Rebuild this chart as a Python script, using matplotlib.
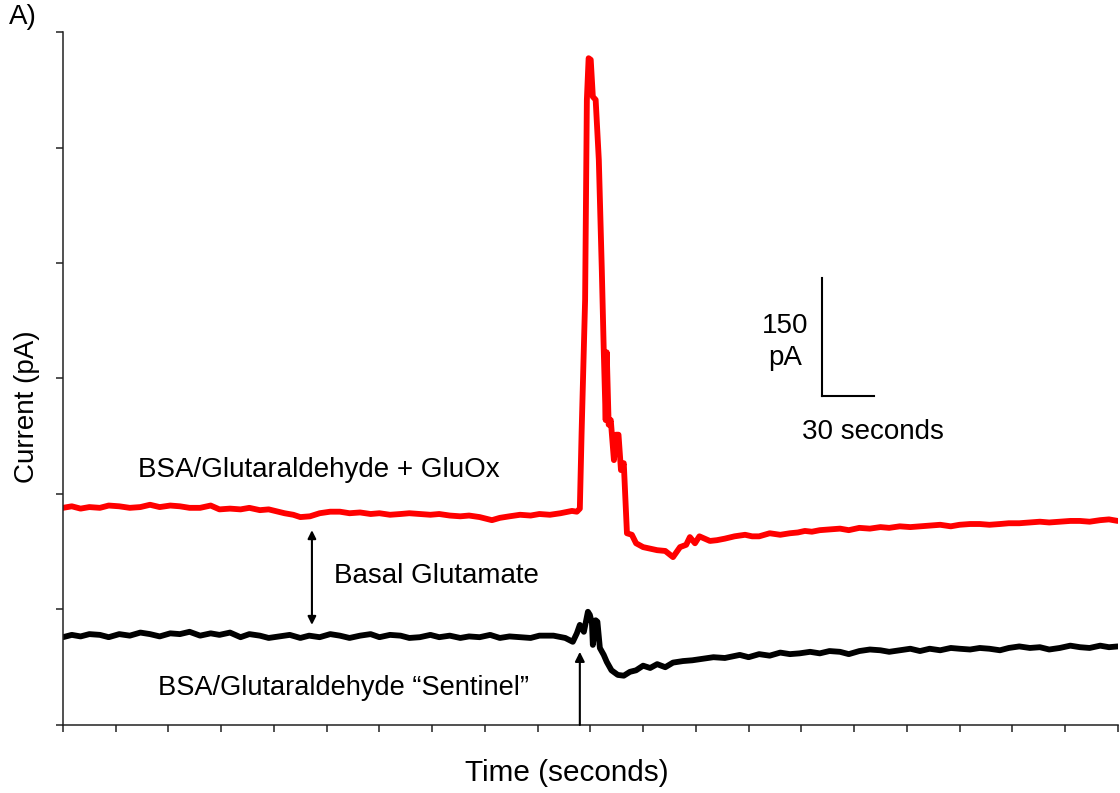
import numpy as np
import matplotlib.pyplot as plt

plt.rcParams['font.family'] = ['Liberation Sans', 'DejaVu Sans']

# Red trace: BSA/Glutaraldehyde + GluOx (time in s, current in pA)
tRed = [0, 5, 10, 15, 21, 26, 32, 38, 44, 49.5, 55, 61, 66.5, 72, 78, 84, 89, 95,
        101, 106, 112, 117, 120.6, 126, 131, 135, 140.5, 146, 152, 157.5, 163, 169,
        175, 180, 186, 192, 197, 203, 209, 214, 220, 226, 231, 237, 244, 248.5, 254,
        260, 266, 271, 277, 283, 289.5, 292.3, 294, 295, 297, 298, 299, 300.2, 301.4,
        303, 304.8, 306.5, 307.6, 308.7, 309.3, 310.4, 311.6, 313.4, 314.5, 316,
        317.4, 319, 320.8, 323.6, 326, 330, 334, 338, 342.6, 347, 351, 354.5, 356.6,
        359.5, 362, 368, 372, 376.5, 382, 388, 392, 396, 402, 408, 413.5, 418, 422,
        426, 430.5, 436, 442, 447, 453, 459, 465, 470, 476, 482, 487.5, 493, 499,
        505, 510, 516, 521.5, 527, 533, 538, 544, 550, 555.7, 561, 567, 573, 578.5,
        584, 590, 595, 600]
iRed = [282, 284, 281, 283, 282, 285, 284, 282, 283, 286, 283, 285, 284, 282, 282,
        285, 280, 281, 280, 282, 279, 280, 278, 275, 273, 270, 271, 275, 277, 277,
        275, 276, 274, 275, 273, 274, 275, 274, 273, 274, 272, 271, 272, 270, 266,
        269, 271, 273, 272, 274, 273, 275, 278, 277, 281, 379, 552, 812, 866, 864,
        816, 812, 734, 591, 487, 396, 484, 390, 396, 344, 377, 377, 331, 340, 249,
        247, 236, 231, 229, 227, 226, 218, 231, 234, 244, 236, 245, 239, 240, 242,
        245, 247, 245, 245, 249, 247, 249, 250, 252, 251, 253, 254, 255, 253, 256,
        255, 257, 256, 258, 257, 258, 259, 260, 258, 260, 261, 261, 260, 261, 262,
        262, 263, 264, 263, 264, 265, 265, 264, 266, 267, 265]

# Black trace: BSA/Glutaraldehyde "Sentinel" as (time, current) readings
blackReadings = [
    (0, 114), (5, 117), (10, 115), (15, 118), (21, 117), (26, 114), (32, 118),
    (38, 116), (44, 120), (49.5, 118), (55, 115), (61, 119), (66.5, 118), (72, 121),
    (78, 116), (84, 119), (89, 117), (95, 120), (101, 114), (106, 118), (112, 116),
    (117, 113), (123, 115), (129, 117), (135, 113), (140, 116), (146, 114),
    (152, 118), (157.5, 116), (163, 113), (169, 116), (175, 118), (180, 114),
    (186, 117), (192, 116), (197, 113), (203, 114), (209, 117), (214, 114),
    (220, 116), (226, 113), (231, 115), (237, 114), (243, 117), (248.5, 113),
    (254, 115), (260, 114), (266, 113), (271, 116), (279, 116), (285.7, 113),
    (290, 108), (292.3, 119), (294, 130), (296.3, 121), (298.6, 147), (299.7, 143),
    (300.9, 132), (301.4, 104), (303, 136), (304, 134), (305.4, 100), (307.6, 91),
    (309.3, 82), (312, 71), (315.6, 65), (319, 64), (322.5, 69), (326, 71),
    (330, 77), (334, 74), (338, 79), (342.6, 75), (347, 81), (352.7, 83), (358, 84),
    (364, 86), (370, 88), (376.5, 87), (385, 91), (390, 88), (396, 92), (402, 90),
    (408, 94), (413.5, 92), (419, 93), (425, 95), (430.5, 93), (436, 96), (442, 95),
    (447, 92), (453, 96), (459, 98), (465, 97), (470, 95), (476, 97), (482, 99),
    (487.5, 96), (493, 99), (499, 97), (505, 100), (510, 99), (516, 98),
    (521.5, 100), (527, 99), (533, 97), (538, 100), (544, 102), (550, 100),
    (555.7, 101), (561, 98), (567, 100), (573, 103), (578.5, 101), (584, 100),
    (590, 103), (595, 101), (600, 102)]
tBlack = [p[0] for p in blackReadings]
iBlack = [p[1] for p in blackReadings]

fig = plt.figure(figsize=(11.2, 7.93), dpi=100)
ax = fig.add_axes([0.05625, 0.0858, 0.94175, 0.8738])

ax.plot(tRed, iRed, color='#ff0000', lw=4.2, solid_joinstyle='round',
        solid_capstyle='round')
ax.plot(tBlack, iBlack, color='black', lw=4.2, solid_joinstyle='round',
        solid_capstyle='round')

ax.set_xlim(0, 600)
ax.set_ylim(0, 900)
ax.set_xticks(np.arange(0, 601, 30))
ax.set_yticks(np.arange(0, 901, 150))
ax.set_xticklabels([])
ax.set_yticklabels([])
ax.tick_params(axis='both', direction='out', length=5, width=1.1, color='#222222')
for s in ['top', 'right']:
    ax.spines[s].set_visible(False)
for s in ['left', 'bottom']:
    ax.spines[s].set_linewidth(1.1)
    ax.spines[s].set_color('#222222')

# Labels
ax.text(42.7, 331, 'BSA/Glutaraldehyde + GluOx', fontsize=20, va='center', ha='left')
ax.text(154, 193, 'Basal Glutamate', fontsize=20, va='center', ha='left')
ax.text(54, 48, 'BSA/Glutaraldehyde \u201cSentinel\u201d', fontsize=19.6,
        va='center', ha='left')

# Arrows
ax.annotate('', xy=(141.6, 253), xytext=(141.6, 130),
            arrowprops=dict(arrowstyle='<|-|>', color='black', lw=1.5,
                            mutation_scale=12, shrinkA=0, shrinkB=0))
ax.annotate('', xy=(294, 95), xytext=(294, 0),
            arrowprops=dict(arrowstyle='-|>', color='black', lw=1.5,
                            mutation_scale=14, shrinkA=0, shrinkB=0))

# Scale bar
ax.plot([431.6, 431.6], [580, 427], color='black', lw=1.5)
ax.plot([431.6, 461.6], [427, 427], color='black', lw=1.5)
ax.text(410.6, 498, '150\npA', fontsize=20, ha='center', va='center',
        multialignment='center', linespacing=1.3)
ax.text(461, 380, '30 seconds', fontsize=20, ha='center', va='center')

fig.text(0.506, 0.025, 'Time (seconds)', fontsize=21.4, ha='center', va='center')
fig.text(0.024, 0.487, 'Current (pA)', fontsize=20, ha='center', va='center',
         rotation=90)
fig.text(0.008, 0.979, 'A)', fontsize=20, ha='left', va='center')

fig.savefig('out.png', dpi=100)
